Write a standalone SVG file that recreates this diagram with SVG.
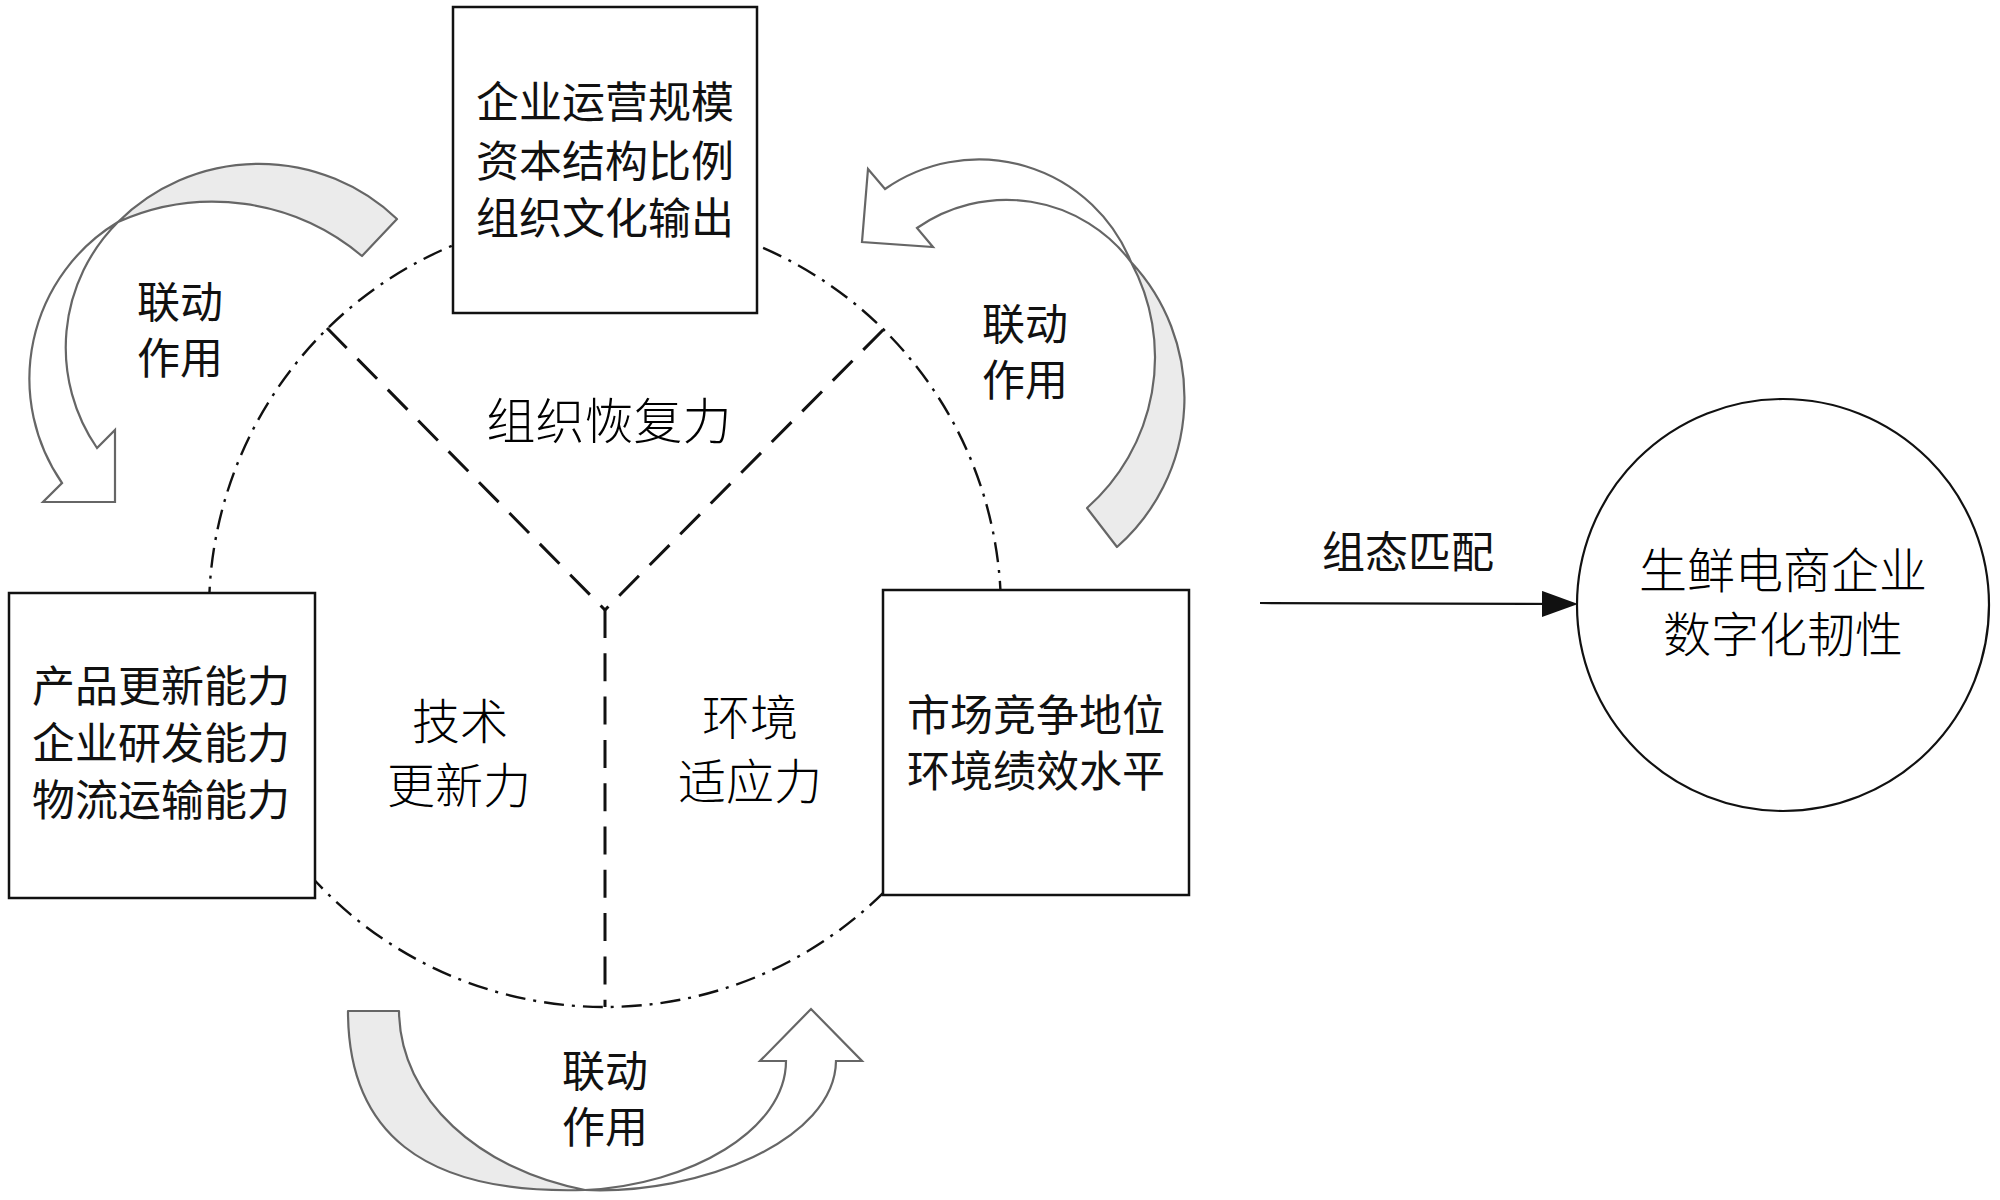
<svg xmlns="http://www.w3.org/2000/svg" width="2000" height="1200" viewBox="0 0 2000 1200">
<defs>
<style>
.ring{fill:none;stroke:#111;stroke-width:2.4;stroke-dasharray:20 8 3 8}
.radial{fill:none;stroke:#111;stroke-width:3;stroke-dasharray:28 15.3}
.box{fill:#fff;stroke:#111;stroke-width:2.5}
.sans{font-family:"Noto Sans CJK SC","Noto Sans",sans-serif;font-size:43px;fill:#111;text-anchor:middle}
.serif{font-family:"Noto Sans CJK SC","Noto Sans",sans-serif;font-size:48px;font-weight:300;fill:#000;text-anchor:middle}
.big{font-size:49px}
.back{fill:#ebebeb;stroke:#666;stroke-width:2.2;stroke-linejoin:round}
.front{fill:#fff;stroke:#666;stroke-width:2.2;stroke-linejoin:miter}
.link{fill:none;stroke:#111;stroke-width:2.2}
</style>
<marker id="ah" markerWidth="36" markerHeight="26" refX="33" refY="13" orient="auto" markerUnits="userSpaceOnUse">
<path d="M0,0 L36,13 L0,26 Z" fill="#111"/>
</marker>
</defs>
<rect width="2000" height="1200" fill="#fff"/>

<g id="ring">
<circle class="ring" cx="605" cy="611" r="396"/>
<path class="radial" d="M327,328 L605,610"/>
<path class="radial" d="M883,330 L605,610"/>
<path class="radial" d="M605,610 L605,1007"/>
</g>

<g id="region-labels">
<text class="serif big" x="609" y="439">组织恢复力</text>
<text class="serif"><tspan x="460" y="739">技术</tspan><tspan x="459" y="803">更新力</tspan></text>
<text class="serif"><tspan x="750" y="735">环境</tspan><tspan x="750" y="799">适应力</tspan></text>
</g>

<g id="node-organization">
<rect class="box" x="453" y="7" width="304" height="306"/>
<text class="sans"><tspan x="605" y="118">企业运营规模</tspan><tspan x="605" y="177">资本结构比例</tspan><tspan x="605" y="234">组织文化输出</tspan></text>
</g>

<g id="node-technology">
<rect class="box" x="9" y="593" width="306" height="305"/>
<text class="sans"><tspan x="161" y="702">产品更新能力</tspan><tspan x="161" y="759">企业研发能力</tspan><tspan x="161" y="816">物流运输能力</tspan></text>
</g>

<g id="node-environment">
<rect class="box" x="883" y="590" width="306" height="305"/>
<text class="sans"><tspan x="1036" y="731">市场竞争地位</tspan><tspan x="1036" y="787">环境绩效水平</tspan></text>
</g>

<g id="node-resilience">
<circle cx="1783" cy="605" r="206" fill="#fff" stroke="#111" stroke-width="2.2"/>
<text class="serif"><tspan x="1783" y="588">生鲜电商企业</tspan><tspan x="1783" y="652">数字化韧性</tspan></text>
</g>

<g id="connectors">
<g id="link-top-left">
<path class="back" d="M397,219 A200,200 0 0 0 118,222 A232,232 0 0 1 362,256 Z"/>
<path class="front" d="M118,222 A183,183 0 0 0 62,483 L43,502 L115,502 L115,430 L97,448 A177,177 0 0 1 118,222 Z"/>
<text class="sans"><tspan x="180" y="318">联动</tspan><tspan x="180" y="374">作用</tspan></text>
</g>
<g id="link-top-right">
<path class="back" d="M1117,547 A199,199 0 0 0 1131,262 A201,201 0 0 1 1087,508 Z"/>
<path class="front" d="M1131,262 A164,164 0 0 0 885,189 L868,169 L862,242 L933,247 L917,228 A156,156 0 0 1 1131,262 Z"/>
<text class="sans"><tspan x="1025" y="340">联动</tspan><tspan x="1025" y="396">作用</tspan></text>
</g>
<g id="link-bottom">
<path class="back" d="M348,1011 C348,1130 420,1195 585,1190 C480,1170 400,1100 399,1011 Z"/>
<path class="front" d="M585,1190 C700,1195 835,1140 836,1061 L862,1061 L811,1009 L760,1061 L786,1061 C786,1130 690,1185 585,1190 Z"/>
<text class="sans"><tspan x="605" y="1087">联动</tspan><tspan x="605" y="1143">作用</tspan></text>
</g>
<g id="link-match">
<path class="link" d="M1260,603 L1575,604" marker-end="url(#ah)"/>
<text class="sans" x="1408" y="568">组态匹配</text>
</g>
</g>
</svg>
